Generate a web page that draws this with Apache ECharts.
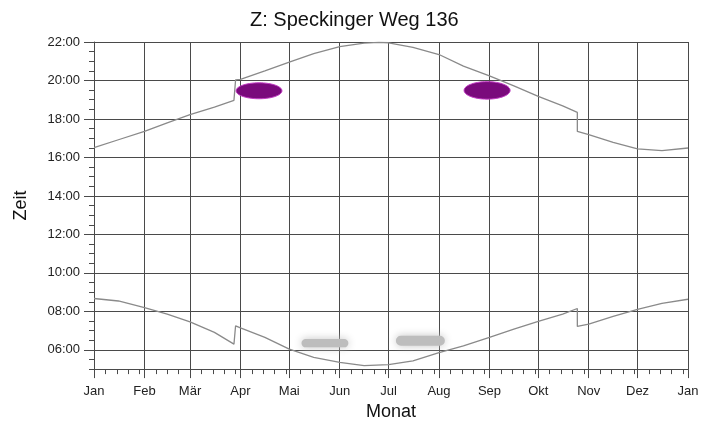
<!DOCTYPE html>
<html>
<head>
<meta charset="utf-8">
<script src="https://cdn.jsdelivr.net/npm/echarts@6/dist/echarts.min.js"></script>
<style>
html,body{margin:0;padding:0;background:#fff;}
#chart{width:714px;height:426px;}
</style>
</head>
<body>
<div id="chart"></div>
<script>
// Month starts (day of year) and labels
const monthStarts = [0, 31, 59, 90, 120, 151, 181, 212, 243, 273, 304, 334, 365];
const monthLabels = ['Jan', 'Feb', 'Mär', 'Apr', 'Mai', 'Jun', 'Jul', 'Aug', 'Sep', 'Okt', 'Nov', 'Dez', 'Jan'];
// Hour ticks
const hourTicks = [6, 8, 10, 12, 14, 16, 18, 20, 22];
const hourLabels = ['06:00', '08:00', '10:00', '12:00', '14:00', '16:00', '18:00', '20:00', '22:00'];

// Sunset (upper curve): [day of year, hour]
const sunset = [
  [0,16.51],[15,16.92],[31,17.35],[45,17.8],[59,18.22],[74,18.62],[86,18.97],[87,20.03],[90,20.06],
  [105,20.5],[120,20.95],[135,21.4],[151,21.76],[166,21.94],[175,21.98],[181,21.96],[196,21.72],
  [212,21.35],[227,20.75],[243,20.24],[258,19.72],[273,19.17],[288,18.68],[297,18.34],[297,17.35],
  [304,17.18],[319,16.78],[334,16.45],[349,16.35],[365,16.49]
];
// Sunrise (lower curve): [day of year, hour]
const sunrise = [
  [0,8.67],[15,8.54],[31,8.2],[45,7.86],[59,7.45],[74,6.91],[86,6.3],[87,7.25],[90,7.14],
  [105,6.65],[120,6.04],[135,5.61],[151,5.35],[166,5.18],[181,5.23],[196,5.43],[212,5.86],
  [227,6.21],[243,6.65],[258,7.08],[273,7.48],[288,7.86],[297,8.15],[297,7.22],[304,7.34],
  [319,7.74],[334,8.11],[349,8.42],[365,8.63]
];
// Shadow periods: [startDay, endDay, startHour, endHour]
const eveningShadow = [
  [87.3, 115.5, 19.05, 19.88],
  [227.4, 255.7, 19.03, 19.94]
];
const morningShadow = [
  [127.5, 156.3, 6.13, 6.56],
  [185.5, 215.6, 6.21, 6.73]
];

const titleText = 'Z: Speckinger Weg 136';
const xName = 'Monat';
const yName = 'Zeit';

// minor ticks
const xMinor = [];
for (let i = 0; i < monthStarts.length - 1; i++) {
  for (let k = 7; k <= 28; k += 7) {
    const d = monthStarts[i] + k;
    if (d < monthStarts[i + 1]) xMinor.push(d);
  }
}
const yMinor = [];
for (let h = 5; h < 22; h += 0.5) {
  if (hourTicks.indexOf(h) < 0) yMinor.push(h);
}

const FONT = '"Liberation Sans", Arial, sans-serif';
const gridColor = '#4a4a4a';

function ellipseItem(params, api) {
  const p0 = api.coord([api.value(0), api.value(3)]);
  const p1 = api.coord([api.value(1), api.value(2)]);
  const cx = (p0[0] + p1[0]) / 2, cy = (p0[1] + p1[1]) / 2;
  const rx = Math.abs(p1[0] - p0[0]) / 2, ry = Math.abs(p1[1] - p0[1]) / 2;
  const pts = [];
  for (let i = 0; i < 60; i++) {
    const a = i / 60 * Math.PI * 2;
    pts.push([cx + rx * Math.cos(a), cy + ry * Math.sin(a)]);
  }
  return {
    type: 'polygon',
    shape: { points: pts },
    style: { fill: '#7a0a7c', stroke: '#c23cc4', lineWidth: 1 }
  };
}
function blurRectItem(params, api) {
  const p0 = api.coord([api.value(0), api.value(3)]);
  const p1 = api.coord([api.value(1), api.value(2)]);
  const w = p1[0] - p0[0], h = p1[1] - p0[1];
  return {
    type: 'rect',
    shape: { x: p0[0], y: p0[1], width: w, height: h, r: h / 2 },
    style: { fill: '#bdbdbd', shadowBlur: 8, shadowColor: '#c4c4c4' }
  };
}

const chart = echarts.init(document.getElementById('chart'));
chart.setOption({
  animation: false,
  backgroundColor: '#fff',
  title: {
    text: titleText,
    left: 245,
    top: 5,
    textStyle: { fontFamily: FONT, fontSize: 20, fontWeight: 'normal', color: '#111' }
  },
  grid: { left: 94, right: 26, top: 42, bottom: 56 },
  xAxis: [
    {
      type: 'value', min: 0, max: 365, position: 'bottom',
      name: xName, nameLocation: 'middle', nameGap: 30,
      nameTextStyle: { fontFamily: FONT, fontSize: 18, color: '#111' },
      axisLine: { show: true, lineStyle: { color: gridColor, width: 1 } },
      axisTick: { show: true, customValues: monthStarts, length: 9, lineStyle: { color: gridColor } },
      axisLabel: {
        customValues: monthStarts, margin: 16,
        fontFamily: FONT, fontSize: 13, color: '#222',
        formatter: function (v) { return monthLabels[monthStarts.indexOf(v)]; }
      },
      splitLine: { show: true, lineStyle: { color: gridColor, width: 1 } }
    },
    {
      type: 'value', min: 0, max: 365, position: 'bottom', offset: 0,
      axisLine: { show: false },
      axisTick: { show: true, customValues: xMinor, length: 5, lineStyle: { color: gridColor } },
      axisLabel: { show: false },
      splitLine: { show: false }
    }
  ],
  yAxis: [
    {
      type: 'value', min: 5, max: 22, position: 'left',
      name: yName, nameLocation: 'middle', nameGap: 64, nameRotate: 90,
      nameTextStyle: { fontFamily: FONT, fontSize: 18, color: '#111' },
      axisLine: { show: true, lineStyle: { color: gridColor, width: 1 } },
      axisTick: { show: true, customValues: hourTicks, length: 10, lineStyle: { color: gridColor } },
      axisLabel: {
        customValues: hourTicks, margin: 14,
        fontFamily: FONT, fontSize: 13, color: '#222',
        formatter: function (v) { return hourLabels[hourTicks.indexOf(v)]; }
      },
      splitLine: { show: true, lineStyle: { color: gridColor, width: 1 } }
    },
    {
      type: 'value', min: 5, max: 22, position: 'left', offset: 0,
      axisLine: { show: false },
      axisTick: { show: true, customValues: yMinor, length: 5, lineStyle: { color: gridColor } },
      axisLabel: { show: false },
      splitLine: { show: false }
    }
  ],
  series: [
    {
      type: 'line', name: 'Sonnenuntergang', data: sunset, showSymbol: false,
      lineStyle: { color: '#8a8a8a', width: 1.3 }, z: 3
    },
    {
      type: 'line', name: 'Sonnenaufgang', data: sunrise, showSymbol: false,
      lineStyle: { color: '#8a8a8a', width: 1.3 }, z: 3
    },
    {
      type: 'custom', name: 'Abendschatten', data: eveningShadow, renderItem: ellipseItem, z: 4
    },
    {
      type: 'custom', name: 'Morgenschatten', data: morningShadow, renderItem: blurRectItem, z: 2
    }
  ]
});
</script>
</body>
</html>
